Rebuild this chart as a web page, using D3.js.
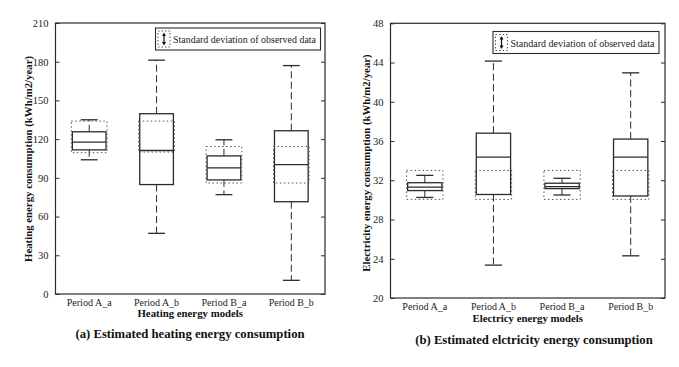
<!DOCTYPE html>
<html>
<head>
<meta charset="utf-8">
<script src="https://cdn.jsdelivr.net/npm/d3@7"></script>
<style>
  body { margin: 0; background: #fff; }
  svg text { font-family: "Liberation Serif", "Times New Roman", serif !important; }
</style>
</head>
<body>
<svg id="chart" width="679" height="367"></svg>
<script>
'use strict';

var models = ['Period A_a', 'Period A_b', 'Period B_a', 'Period B_b'];

// heating (kWh/m2/year)
var heatTicks = [0, 30, 60, 90, 120, 150, 180, 210];
var heatWhiskerLow = [104, 47, 77, 10.6];
var heatQ1 = [111.7, 84.8, 88.4, 71.5];
var heatMedian = [117.7, 111.2, 97.7, 100.3];
var heatQ3 = [125.7, 139.7, 107, 126.5];
var heatWhiskerHigh = [135, 181.2, 119.5, 177];
var heatSdLow = [109.5, 110, 86, 86];
var heatSdHigh = [134, 134, 114.3, 114.3];

// electricity (kWh/m2/year)
var elecTicks = [20, 24, 28, 32, 36, 40, 44, 48];
var elecWhiskerLow = [30.25, 23.35, 30.5, 24.3];
var elecQ1 = [30.95, 30.55, 31.15, 30.4];
var elecMedian = [31.3, 34.35, 31.35, 34.35];
var elecQ3 = [31.75, 36.8, 31.7, 36.2];
var elecWhiskerHigh = [32.5, 44.15, 32.2, 42.95];
var elecSdLow = [30.05, 30.05, 30.05, 30.05];
var elecSdHigh = [33.0, 33.0, 33.0, 33.0];

var INK = '#2b2b2b';
var svg = d3.select('#chart');

// squeeze a text if the font gives it more room than the original had
function fitWidth(sel, maxW) {
    sel.each(function() {
        if (this.getComputedTextLength() > maxW) {
            d3.select(this).attr('textLength', maxW).attr('lengthAdjust', 'spacingAndGlyphs');
        }
    });
}

function drawPanel(p) {
    var x = d3.scaleBand().domain(models).range([p.left, p.right]);
    var y = d3.scaleLinear().domain([p.ticks[0], p.ticks[p.ticks.length - 1]]).range([p.bottom, p.top]);
    var g = svg.append('g');
    var boxW = x.bandwidth() * 0.5;

    // frame
    g.append('rect')
        .attr('x', p.left).attr('y', p.top)
        .attr('width', p.right - p.left).attr('height', p.bottom - p.top)
        .attr('fill', 'none').attr('stroke', INK).attr('stroke-width', 1.2);

    // y axis, ticks pointing inwards on both sides
    var yAxis = d3.axisLeft(y).tickValues(p.ticks).tickSize(-4).tickPadding(7);
    var ya = g.append('g').attr('transform', 'translate(' + p.left + ',0)').call(yAxis);
    ya.select('.domain').remove();
    ya.selectAll('line').attr('stroke', INK);
    ya.selectAll('text').attr('font-size', 10.5).attr('fill', '#222');

    var yAxisR = d3.axisRight(y).tickValues(p.ticks).tickSize(-4).tickFormat('');
    var yr = g.append('g').attr('transform', 'translate(' + p.right + ',0)').call(yAxisR);
    yr.select('.domain').remove();
    yr.selectAll('line').attr('stroke', INK);

    // x axis labels
    var xAxis = d3.axisBottom(x).tickSize(0).tickPadding(p.xPad);
    var xa = g.append('g').attr('transform', 'translate(0,' + p.bottom + ')').call(xAxis);
    xa.select('.domain').remove();
    xa.selectAll('text').attr('font-size', 10.5).attr('fill', '#222').call(fitWidth, 45);

    // boxes
    models.forEach(function(m, i) {
        var cx = x(m) + x.bandwidth() / 2;
        var bg = g.append('g');

        // whiskers
        bg.append('line')
            .attr('x1', cx).attr('x2', cx)
            .attr('y1', y(p.q3[i])).attr('y2', y(p.hi[i]))
            .attr('stroke', INK).attr('stroke-dasharray', '7,3.5');
        bg.append('line')
            .attr('x1', cx).attr('x2', cx)
            .attr('y1', y(p.q1[i])).attr('y2', y(p.lo[i]))
            .attr('stroke', INK).attr('stroke-dasharray', '7,3.5');
        [p.hi[i], p.lo[i]].forEach(function(v) {
            bg.append('line')
                .attr('x1', cx - boxW / 4).attr('x2', cx + boxW / 4)
                .attr('y1', y(v)).attr('y2', y(v))
                .attr('stroke', INK).attr('stroke-width', 1.3);
        });

        // box
        bg.append('rect')
            .attr('x', cx - boxW / 2).attr('y', y(p.q3[i]))
            .attr('width', boxW).attr('height', y(p.q1[i]) - y(p.q3[i]))
            .attr('fill', 'none').attr('stroke', INK).attr('stroke-width', 1.3);
        bg.append('line')
            .attr('x1', cx - boxW / 2).attr('x2', cx + boxW / 2)
            .attr('y1', y(p.med[i])).attr('y2', y(p.med[i]))
            .attr('stroke', INK).attr('stroke-width', 1.3);

        // standard deviation of observed data
        bg.append('rect')
            .attr('x', cx - boxW / 2 - 1).attr('y', y(p.sdHi[i]))
            .attr('width', boxW + 2).attr('height', y(p.sdLo[i]) - y(p.sdHi[i]))
            .attr('fill', 'none').attr('stroke', '#555').attr('stroke-width', 1)
            .attr('stroke-dasharray', '1.5,2.5');
    });

    // legend
    var lg = g.append('g').attr('transform', 'translate(' + p.legend[0] + ',' + p.legend[1] + ')');
    lg.append('rect').attr('width', p.legend[2]).attr('height', 22)
        .attr('fill', '#fff').attr('stroke', INK).attr('stroke-width', 1.1);
    lg.append('rect').attr('x', 2.5).attr('y', 3).attr('width', 12).attr('height', 16)
        .attr('fill', 'none').attr('stroke', '#555').attr('stroke-dasharray', '1.5,2');
    lg.append('line').attr('x1', 8.5).attr('x2', 8.5).attr('y1', 6).attr('y2', 16)
        .attr('stroke', '#111').attr('stroke-width', 1.2);
    lg.append('path').attr('d', 'M6.5,8 L8.5,4.5 L10.5,8 Z M6.5,14 L8.5,17.5 L10.5,14 Z').attr('fill', '#111');
    lg.append('text').attr('x', 17.5).attr('y', 15)
        .attr('font-size', 10.2).attr('fill', '#222')
        .text('Standard deviation of observed data')
        .call(fitWidth, p.legend[2] - 22);

    // titles
    g.append('text')
        .attr('x', (p.left + p.right) / 2).attr('y', p.xTitleY)
        .attr('text-anchor', 'middle').attr('font-weight', 'bold').attr('font-size', 10.8)
        .attr('fill', '#111').text(p.xTitle);
    g.append('text')
        .attr('transform', 'translate(' + p.yTitleX + ',' + p.yTitleY + ') rotate(-90)')
        .attr('text-anchor', 'middle').attr('font-weight', 'bold').attr('font-size', 10.8)
        .attr('fill', '#111').text(p.yTitle);
    g.append('text')
        .attr('x', p.captionX).attr('y', p.captionY)
        .attr('text-anchor', 'middle').attr('font-weight', 'bold').attr('font-size', 12.7)
        .attr('fill', '#111').text(p.caption);
}

drawPanel({
    left: 55.5, right: 325, top: 23, bottom: 294,
    ticks: heatTicks,
    lo: heatWhiskerLow, q1: heatQ1, med: heatMedian, q3: heatQ3, hi: heatWhiskerHigh,
    sdLo: heatSdLow, sdHi: heatSdHigh,
    xPad: 5, legend: [155.5, 28, 165],
    xTitle: 'Heating energy models', xTitleY: 317,
    yTitle: 'Heating energy consumption (kWh/m2/year)', yTitleX: 32, yTitleY: 159,
    caption: '(a) Estimated heating energy consumption', captionX: 190, captionY: 338
});

drawPanel({
    left: 390.5, right: 665, top: 23.3, bottom: 298,
    ticks: elecTicks,
    lo: elecWhiskerLow, q1: elecQ1, med: elecMedian, q3: elecQ3, hi: elecWhiskerHigh,
    sdLo: elecSdLow, sdHi: elecSdHigh,
    xPad: 5, legend: [493, 31.5, 166],
    xTitle: 'Electricy energy models', xTitleY: 321.5,
    yTitle: 'Electricity energy consumption (kWh/m2/year)', yTitleX: 370, yTitleY: 163,
    caption: '(b) Estimated elctricity energy consumption', captionX: 534, captionY: 344
});
</script>
</body>
</html>
